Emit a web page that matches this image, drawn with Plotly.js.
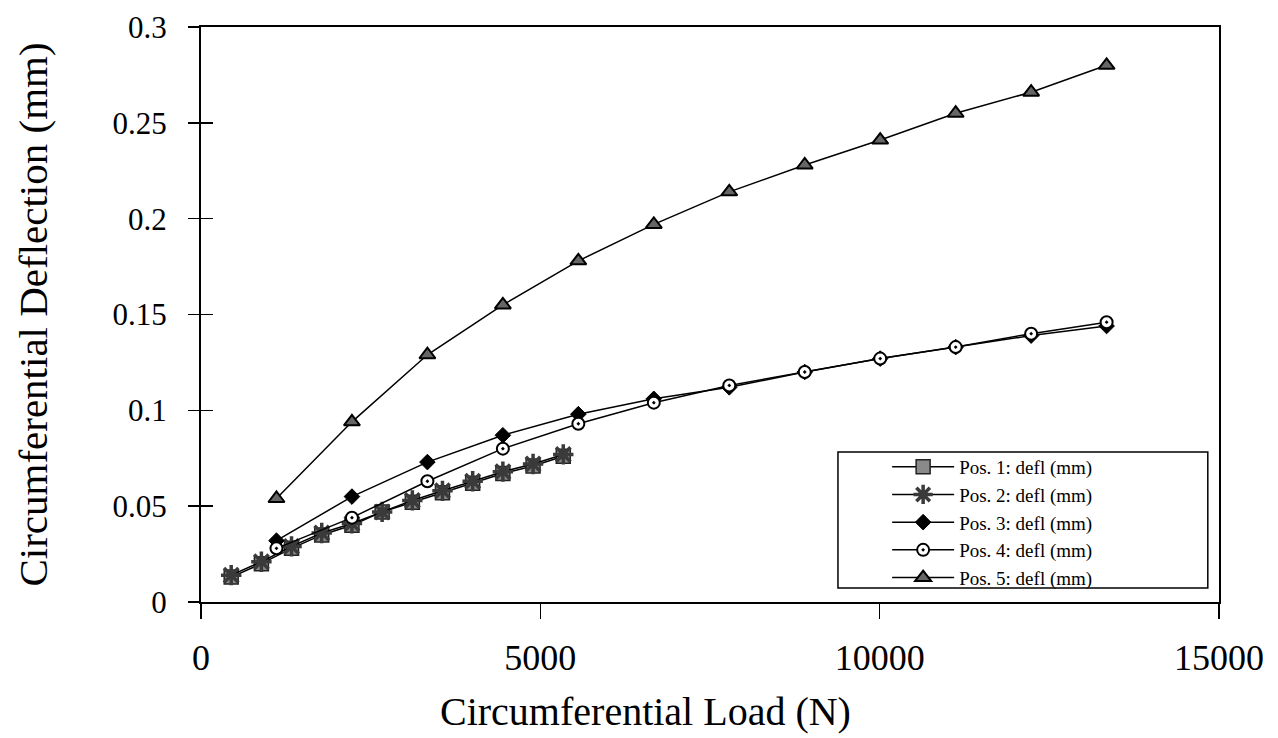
<!DOCTYPE html>
<html>
<head>
<meta charset="utf-8">
<script src="https://cdn.plot.ly/plotly-3.0.1.min.js"></script>
<style>html,body{margin:0;padding:0;background:#fff;}#chart{width:1278px;height:738px;}</style>
</head>
<body>
<div id="chart"></div>
<script>
// Loads (N)
var loadSmall = [445, 890, 1334, 1779, 2224, 2669, 3114, 3558, 4003, 4448, 4893, 5338];
var loadLarge = [1112, 2224, 3336, 4448, 5560, 6672, 7784, 8896, 10008, 11120, 12232, 13344];
// Deflections (mm)
var pos1 = [0.013, 0.020, 0.028, 0.035, 0.040, 0.047, 0.052, 0.057, 0.062, 0.067, 0.071, 0.076];
var pos2 = [0.014, 0.021, 0.029, 0.036, 0.041, 0.047, 0.053, 0.058, 0.063, 0.068, 0.072, 0.077];
var pos3 = [0.032, 0.055, 0.073, 0.087, 0.098, 0.106, 0.112, 0.120, 0.127, 0.133, 0.139, 0.144];
var pos4 = [0.028, 0.044, 0.063, 0.080, 0.093, 0.104, 0.113, 0.120, 0.127, 0.133, 0.140, 0.146];
var pos5 = [0.054, 0.094, 0.129, 0.155, 0.178, 0.197, 0.214, 0.228, 0.241, 0.255, 0.266, 0.280];
var seriesNames = ["Pos. 1: defl (mm)", "Pos. 2: defl (mm)", "Pos. 3: defl (mm)", "Pos. 4: defl (mm)", "Pos. 5: defl (mm)"];
var xTickVals = [0, 5000, 10000, 15000];
var xTickText = ["0", "5000", "10000", "15000"];
var yTickVals = [0, 0.05, 0.1, 0.15, 0.2, 0.25, 0.3];
var yTickText = ["0", "0.05", "0.1", "0.15", "0.2", "0.25", "0.3"];
var xTitle = "Circumferential Load (N)";
var yTitle = "Circumferential Deflection (mm)";

var FONT = "Liberation Serif, Times New Roman, serif";
var line = {color: "#000", width: 1.5};

var traces = [
  {x: loadSmall, y: pos1, name: seriesNames[0], mode: "lines+markers", line: line,
   marker: {symbol: "square", size: 14, color: "#8a8a8a", line: {color: "#222", width: 1.5}}},
  {x: loadSmall, y: pos2, name: seriesNames[1], mode: "lines+markers", line: line,
   marker: {symbol: "asterisk-open", size: 17, color: "#3a3a3a", line: {color: "#3a3a3a", width: 3.5}}},
  {x: loadLarge, y: pos3, name: seriesNames[2], mode: "lines+markers", line: line,
   marker: {symbol: "diamond", size: 12, color: "#000", line: {color: "#000", width: 1}}},
  {x: loadLarge, y: pos4, name: seriesNames[3], mode: "lines+markers", line: line,
   marker: {symbol: "circle-dot", size: 12, color: "#fff", line: {color: "#000", width: 2}}},
  {x: loadLarge, y: pos5, name: seriesNames[4], mode: "lines+markers", line: line,
   marker: {symbol: "triangle-up", size: 14, color: "#666", line: {color: "#000", width: 2}}},
  // invisible trace carrying the inner half of the crossing y ticks
  {x: [0], y: [0], yaxis: "y2", mode: "markers", marker: {opacity: 0}, showlegend: false, hoverinfo: "skip"}
];

var layout = {
  width: 1278, height: 738,
  margin: {l: 201, r: 59, t: 27, b: 136},
  paper_bgcolor: "#fff", plot_bgcolor: "#fff",
  font: {family: FONT, color: "#000"},
  showlegend: true,
  xaxis: {
    range: [0, 15000], tickvals: xTickVals, ticktext: xTickText,
    showgrid: false, zeroline: false, showline: true, linecolor: "#000", linewidth: 2, mirror: true,
    ticks: "outside", ticklen: 15, tickwidth: 1.5, tickcolor: "#000",
    tickfont: {family: FONT, size: 36}, ticklabelstandoff: 8
  },
  yaxis: {
    range: [0, 0.3], tickvals: yTickVals, ticktext: yTickText,
    showgrid: false, zeroline: false, showline: true, linecolor: "#000", linewidth: 2, mirror: true,
    ticks: "outside", ticklen: 11, tickwidth: 1.5, tickcolor: "#000",
    tickfont: {family: FONT, size: 31}, ticklabelstandoff: 15,
    title: {text: yTitle, font: {family: FONT, size: 41}, standoff: 52}
  },
  yaxis2: {
    overlaying: "y", side: "left", range: [0, 0.3], tickvals: yTickVals,
    showticklabels: false, showgrid: false, zeroline: false, showline: false,
    ticks: "inside", ticklen: 12, tickwidth: 1.5, tickcolor: "#000"
  },
  annotations: [
    {text: xTitle, xref: "paper", yref: "paper", x: 0.437, y: -0.1913, xanchor: "center", yanchor: "middle",
     showarrow: false, font: {family: FONT, size: 40, color: "#000"}}
  ],
  legend: {
    x: 0.674, y: 0.268, xanchor: "left", yanchor: "top",
    bgcolor: "rgba(255,255,255,0)", borderwidth: 0,
    font: {family: FONT, size: 19, color: "#000"},
    itemwidth: 62, tracegroupgap: 0
  },
  shapes: [
    {type: "rect", xref: "paper", yref: "paper", x0: 0.6257, x1: 0.989, y0: 0.0243, y1: 0.2609,
     line: {color: "#000", width: 1.5}, fillcolor: "rgba(255,255,255,1)", layer: "below"}
  ]
};

Plotly.newPlot("chart", traces, layout, {displayModeBar: false, staticPlot: true});
</script>
</body>
</html>
